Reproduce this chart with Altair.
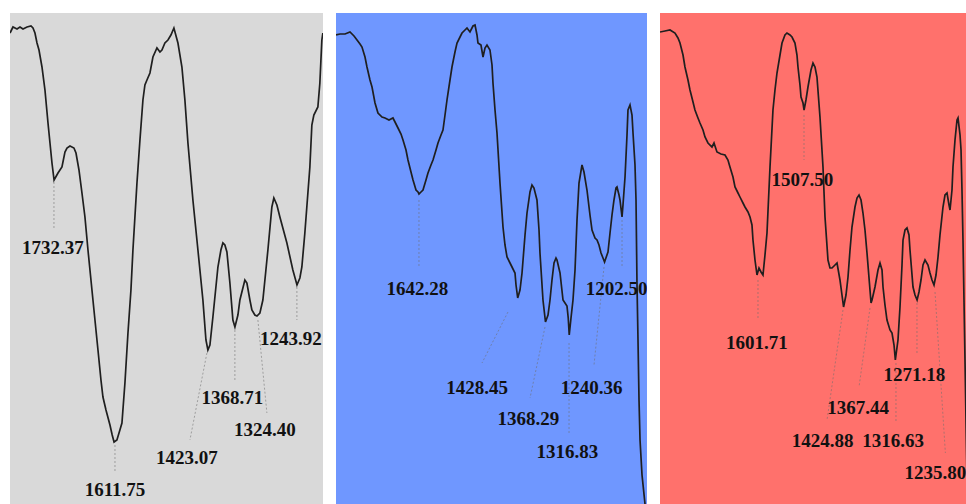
import altair as alt
import pandas as pd

# ---------------- Panel 1 (grey) ----------------
p1_wn = [1821.0, 1815.0, 1806.9, 1800.9, 1794.9, 1786.8, 1778.8, 1774.8, 1770.8, 1766.7,
         1762.7, 1756.7, 1750.7, 1744.6, 1740.6, 1736.6, 1732.37, 1724.5, 1716.5, 1710.5,
         1706.4, 1700.4, 1692.4, 1688.3, 1682.3, 1676.3, 1670.3, 1664.2, 1654.2, 1644.1,
         1638.1, 1634.1, 1628.0, 1620.0, 1615.5, 1611.75, 1606.0, 1600.0, 1595.9, 1589.9,
         1583.8, 1577.8, 1573.8, 1565.7, 1559.7, 1553.7, 1549.7, 1545.6, 1539.6, 1533.6,
         1525.5, 1519.5, 1515.5, 1509.5, 1503.4, 1497.4, 1491.4, 1483.3, 1475.3, 1469.3,
         1463.2, 1453.2, 1443.1, 1433.1, 1427.0, 1423.07, 1419.0, 1413.0, 1402.9, 1396.9,
         1392.9, 1388.9, 1384.8, 1378.8, 1372.8, 1368.71, 1362.7, 1358.7, 1348.7, 1344.6,
         1338.6, 1334.6, 1328.6, 1324.4, 1318.5, 1312.5, 1306.4, 1302.4, 1294.4, 1290.4,
         1284.3, 1278.3, 1264.2, 1252.2, 1243.92, 1238.1, 1234.1, 1228.1, 1218.0, 1214.0,
         1210.0, 1201.9, 1197.9, 1193.9, 1191.9]
p1_t = [471, 477, 475, 477, 475, 477, 478, 476, 471, 461,
        454, 437, 414, 381, 361, 341, 324, 331, 337, 352,
        356, 358, 356, 351, 334, 311, 287, 254, 204, 154,
        124, 107, 94, 79, 69, 62, 64, 74, 81, 121,
        171, 214, 254, 321, 364, 404, 419, 424, 431, 447,
        456, 452, 454, 461, 464, 469, 476, 461, 437, 404,
        361, 304, 254, 204, 164, 154, 159, 187, 237, 254,
        261, 259, 252, 221, 184, 177, 189, 204, 224, 221,
        204, 194, 189, 188, 191, 204, 234, 254, 297, 306,
        299, 287, 261, 234, 219, 226, 237, 271, 337, 379,
        389, 397, 421, 464, 471]
p1_labels = ["1732.37", "1611.75", "1423.07", "1368.71", "1324.40", "1243.92"]
p1_lab_wn = [1734.6, 1609.9, 1465.2, 1373.8, 1308.4, 1256.3]
p1_lab_t = [256, 14, 46, 106, 74, 165]
p1_lead_wn1 = [1732.6, 1609.9, 1425.0, 1368.8, 1322.5, 1244.1]
p1_lead_t1 = [322, 59, 151, 174, 184, 217]
p1_lead_wn2 = [1732.6, 1609.9, 1459.2, 1368.8, 1304.4, 1244.1]
p1_lead_t2 = [276, 31, 64, 124, 91, 184]

# ---------------- Panel 2 (blue) ----------------
p2_wn = [1822.0, 1813.4, 1802.5, 1791.7, 1783.0, 1776.5, 1770.0, 1765.7, 1759.2, 1754.9,
         1748.4, 1744.0, 1737.5, 1731.1, 1722.4, 1715.9, 1707.2, 1698.6, 1694.2, 1687.7,
         1681.2, 1676.9, 1670.4, 1666.1, 1659.6, 1655.2, 1648.7, 1644.4, 1642.28, 1637.9,
         1633.6, 1627.1, 1622.8, 1616.3, 1611.9, 1605.4, 1601.1, 1594.6, 1590.3, 1585.9,
         1581.6, 1575.1, 1570.8, 1564.3, 1559.9, 1553.4, 1549.1, 1542.6, 1538.3, 1531.8,
         1525.3, 1520.9, 1516.6, 1514.5, 1508.0, 1503.6, 1499.3, 1495.0, 1488.5, 1484.1,
         1482.0, 1477.6, 1473.3, 1466.8, 1460.3, 1456.0, 1451.6, 1445.1, 1440.8, 1434.3,
         1432.1, 1428.45, 1423.5, 1419.1, 1412.6, 1408.3, 1401.8, 1397.5, 1393.2, 1386.7,
         1382.3, 1380.2, 1373.7, 1368.29, 1362.8, 1358.5, 1354.2, 1349.8, 1345.5, 1343.3,
         1336.8, 1330.3, 1321.7, 1319.0, 1316.83, 1313.0, 1308.7, 1304.3, 1300.0, 1295.7,
         1289.2, 1284.9, 1278.4, 1271.9, 1267.5, 1261.0, 1256.7, 1252.4, 1248.0, 1243.7,
         1240.36, 1232.9, 1228.5, 1224.2, 1219.9, 1215.5, 1213.4, 1209.0, 1206.9, 1202.5,
         1200.4, 1196.0, 1191.7, 1189.6, 1185.2, 1180.9, 1178.7, 1174.4, 1172.2, 1170.1,
         1167.9, 1165.7, 1163.5, 1159.2, 1152.7, 1148.4]
p2_t = [469, 470, 470, 472, 468, 464, 460, 457, 447, 437,
        424, 417, 401, 391, 387, 386, 384, 386, 382, 376,
        370, 364, 354, 344, 332, 324, 314, 312, 310, 312,
        314, 324, 331, 339, 344, 354, 361, 369, 374, 389,
        404, 424, 437, 452, 461, 467, 471, 474, 476, 472,
        478, 479, 469, 461, 459, 447, 456, 459, 454, 439,
        421, 394, 371, 321, 277, 259, 247, 241, 237, 231,
        219, 206, 214, 231, 269, 291, 312, 319, 316, 304,
        274, 251, 204, 182, 189, 204, 224, 241, 246, 244,
        231, 204, 198, 186, 169, 186, 204, 234, 284, 321,
        339, 332, 314, 289, 274, 266, 264, 259, 251, 246,
        242, 252, 271, 289, 304, 316, 317, 309, 304, 287,
        299, 327, 369, 394, 399, 389, 371, 339, 304, 221,
        164, 104, 64, 29, 0, -15]
p2_labels = ["1642.28", "1428.45", "1368.29", "1316.83", "1240.36", "1202.50"]
p2_lab_wn = [1645.5, 1516.6, 1405.1, 1320.6, 1268.6, 1214.0]
p2_lab_t = [215, 116, 85, 52, 116, 215]
p2_lead_wn1 = [1642.3, 1449.5, 1369.3, 1317.3, 1241.5, 1202.5]
p2_lead_t1 = [304, 192, 177, 161, 237, 284]
p2_lead_wn2 = [1642.3, 1505.8, 1401.8, 1317.3, 1263.2, 1202.5]
p2_lead_t2 = [237, 141, 106, 71, 139, 237]

# ---------------- Panel 3 (red) ----------------
p3_wn = [1808.7, 1798.3, 1787.8, 1777.4, 1771.1, 1766.9, 1760.6, 1756.5, 1750.2, 1746.0,
         1739.7, 1735.6, 1729.3, 1725.1, 1718.8, 1714.6, 1708.4, 1700.0, 1695.8, 1689.6,
         1681.2, 1672.8, 1666.6, 1662.4, 1656.1, 1651.9, 1645.6, 1641.5, 1635.2, 1631.0,
         1624.7, 1620.5, 1616.4, 1614.3, 1610.1, 1605.9, 1601.71, 1597.5, 1593.4, 1589.2,
         1585.0, 1578.7, 1572.5, 1568.3, 1564.1, 1557.8, 1553.6, 1547.4, 1543.2, 1536.9,
         1532.7, 1526.5, 1522.3, 1520.2, 1516.0, 1513.9, 1509.7, 1507.5, 1503.5, 1499.3,
         1493.0, 1488.8, 1484.6, 1480.5, 1474.2, 1467.9, 1463.7, 1457.5, 1453.3, 1449.1,
         1442.8, 1438.6, 1432.4, 1428.2, 1424.88, 1419.8, 1415.6, 1411.4, 1407.3, 1401.0,
         1396.8, 1392.6, 1388.4, 1384.3, 1380.1, 1375.9, 1367.44, 1365.4, 1359.2, 1352.9,
         1348.7, 1344.5, 1342.4, 1338.3, 1334.1, 1327.8, 1323.6, 1319.4, 1316.63, 1311.1,
         1306.9, 1302.7, 1300.6, 1296.4, 1292.3, 1288.1, 1286.0, 1279.7, 1275.5, 1271.18,
         1267.2, 1263.0, 1258.8, 1254.6, 1248.4, 1244.2, 1240.0, 1235.8, 1231.6, 1227.4,
         1223.3, 1217.0, 1212.8, 1208.6, 1204.4, 1202.3, 1198.2, 1196.1, 1191.9, 1187.7,
         1185.6, 1181.4, 1179.3, 1177.3, 1175.2, 1173.1, 1171.0, 1168.9, 1166.8]
p3_t = [472, 473, 474, 471, 466, 461, 449, 437, 424, 414,
        402, 394, 386, 381, 374, 367, 361, 357, 361, 352,
        350, 349, 344, 337, 327, 317, 311, 307, 301, 297,
        292, 287, 279, 264, 244, 229, 236, 232, 229, 249,
        271, 337, 394, 414, 431, 449, 461, 469, 471, 469,
        467, 461, 449, 437, 419, 407, 401, 394, 404, 417,
        434, 441, 437, 427, 387, 337, 287, 244, 236, 236,
        239, 241, 224, 209, 197, 209, 227, 254, 277, 297,
        306, 309, 304, 291, 274, 251, 201, 204, 217, 234,
        241, 234, 217, 199, 184, 174, 171, 159, 144, 164,
        197, 239, 264, 274, 276, 269, 254, 217, 209, 204,
        212, 224, 239, 244, 239, 231, 224, 219, 229, 247,
        269, 297, 309, 311, 299, 294, 314, 337, 364, 384,
        386, 369, 354, 314, 264, 204, 144, 84, 24]
p3_labels = ["1507.50", "1601.71", "1424.88", "1367.44", "1316.63", "1271.18", "1235.80"]
p3_lab_wn = [1510.8, 1605.9, 1468.9, 1394.7, 1321.5, 1276.6, 1233.0]
p3_lab_t = [324, 161, 63, 96, 63, 129, 31]
p3_lead_wn1 = [1507.6, 1603.8, 1426.1, 1369.6, 1315.3, 1271.4, 1233.7]
p3_lead_t1 = [389, 224, 194, 196, 141, 201, 212]
p3_lead_wn2 = [1507.6, 1603.8, 1459.5, 1392.6, 1315.3, 1271.4, 1212.0]
p3_lead_t2 = [344, 184, 84, 117, 82, 151, 51]

PANEL_H = 491


def panel(wn, t, labels, lab_wn, lab_t, w1, t1, w2, t2, domain, bg, width):
    curve = pd.DataFrame({"wn": wn, "T": t})
    labs = pd.DataFrame({"label": labels, "wn": lab_wn, "T": lab_t})
    leads = pd.DataFrame({"w1": w1, "t1": t1, "w2": w2, "t2": t2})
    xs = alt.Scale(domain=domain, nice=False, zero=False)
    ys = alt.Scale(domain=[0, PANEL_H], nice=False, zero=False)

    rules = alt.Chart(leads).mark_rule(
        color="#6e6e6e", strokeWidth=1, strokeDash=[2, 2], opacity=0.55, clip=True
    ).encode(
        x=alt.X("w1:Q", scale=xs, axis=None),
        x2="w2:Q",
        y=alt.Y("t1:Q", scale=ys, axis=None),
        y2="t2:Q",
    )
    line = alt.Chart(curve).mark_line(
        color="#1f1f1f", strokeWidth=1.7, clip=True
    ).encode(
        x=alt.X("wn:Q", scale=xs, axis=None),
        y=alt.Y("T:Q", scale=ys, axis=None),
    )
    text = alt.Chart(labs).mark_text(
        font="Liberation Serif", fontWeight="bold", fontSize=19, color="#111111",
        align="center", baseline="middle", clip=True
    ).encode(
        x=alt.X("wn:Q", scale=xs, axis=None),
        y=alt.Y("T:Q", scale=ys, axis=None),
        text="label:N",
    )
    return alt.layer(rules, line, text).properties(
        width=width, height=PANEL_H,
        view=alt.ViewBackground(fill=bg, strokeWidth=0),
    )


c1 = panel(p1_wn, p1_t, p1_labels, p1_lab_wn, p1_lab_t, p1_lead_wn1, p1_lead_t1,
           p1_lead_wn2, p1_lead_t2, [1821.0, 1191.6], "#d9d9d9", 313)
c2 = panel(p2_wn, p2_t, p2_labels, p2_lab_wn, p2_lab_t, p2_lead_wn1, p2_lead_t1,
           p2_lead_wn2, p2_lead_t2, [1822.0, 1148.4], "#6f97ff", 311)
c3 = panel(p3_wn, p3_t, p3_labels, p3_lab_wn, p3_lab_t, p3_lead_wn1, p3_lead_t1,
           p3_lead_wn2, p3_lead_t2, [1808.7, 1168.9], "#ff716c", 306)

chart = alt.hconcat(c1, c2, c3, spacing=13).properties(
    padding={"left": 10, "top": 13, "right": 0, "bottom": 0},
    bounds="flush",
).configure_view(strokeWidth=0).configure(background="white")

chart.save("out.html", embed_options={"renderer": "svg", "actions": False})
